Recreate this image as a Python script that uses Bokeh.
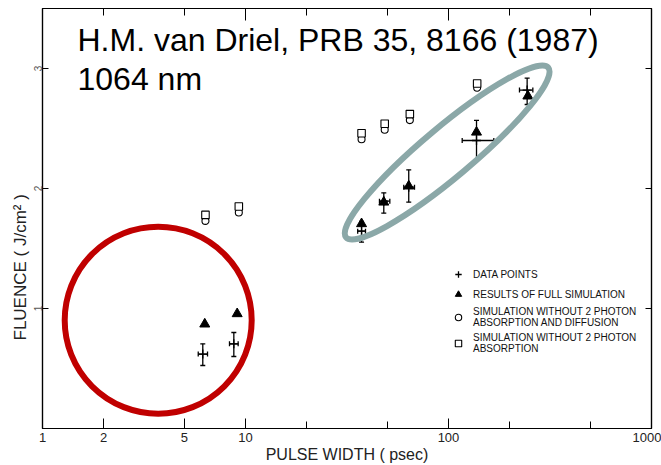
import numpy as np
from bokeh.plotting import figure
from bokeh.models import (Range1d, FixedTicker, LogAxis, LinearAxis, Whisker, TeeHead,
                          ColumnDataSource, Legend, LegendItem, Label, Title, PrintfTickFormatter)
from bokeh.embed import file_html
from bokeh.resources import INLINE

# ---------------- data ----------------
# measured data points (pulse width in psec, fluence in J/cm^2) with error bars
pw_data   = [6.16, 8.76, 37.3, 48.0, 63.7, 137.4, 244.0]
pw_lo     = [5.85, 8.34, 35.7, 45.7, 60.2, 116.8, 223.7]
pw_hi     = [6.50, 9.20, 39.0, 51.4, 68.0, 167.2, 260.3]
fl_data   = [0.62, 0.706, 1.644, 1.894, 2.011, 2.40, 2.82]
fl_lo     = [0.525, 0.60, 1.553, 1.794, 1.886, 2.228, 2.70]
fl_hi     = [0.706, 0.80, 1.725, 1.964, 2.156, 2.567, 2.92]

# results of full simulation (filled triangles)
pw_sim    = [6.30, 9.10, 37.3, 48.0, 63.7, 137.4, 246.0]
fl_sim    = [0.87, 0.956, 1.706, 1.886, 2.02, 2.469, 2.77]

# simulations without 2-photon absorption (open squares) / and diffusion (open circles)
pw_open   = [6.35, 9.27, 37.3, 48.5, 64.5, 138.4]
fl_square = [1.78, 1.85, 2.46, 2.54, 2.62, 2.875]
fl_circle = [1.73, 1.80, 2.41, 2.49, 2.57, 2.84]

x_ticks = [1, 2, 5, 10, 100, 1000]
x_minor = [20, 50, 200, 500]
y_ticks = [1, 2, 3]

# ---------------- figure ----------------
p = figure(width=661, height=465, x_axis_type="log",
           x_range=Range1d(1, 1000), y_range=Range1d(0, 3.5),
           output_backend="svg", toolbar_location=None,
           min_border_left=42, min_border_right=10, min_border_top=8, min_border_bottom=37)
p.grid.visible = False
p.outline_line_color = "black"
p.outline_line_width = 1.2
p.background_fill_color = "white"
p.border_fill_color = "white"

font = "Liberation Sans"
tick_col = "#222222"

xa = p.xaxis[0]
xa.ticker = FixedTicker(ticks=x_ticks, minor_ticks=x_minor)
xa.formatter = PrintfTickFormatter(format="%d")
xa.major_tick_in = 10
xa.major_tick_out = 0
xa.minor_tick_in = 7
xa.minor_tick_out = 0
xa.axis_line_color = "black"
xa.axis_line_width = 1.2
xa.major_label_text_font = font
xa.major_label_text_font_size = "13px"
xa.major_label_text_color = tick_col
xa.major_label_standoff = 4
xa.axis_label = "PULSE WIDTH ( psec)"
xa.axis_label_text_font = font
xa.axis_label_text_font_size = "16px"
xa.axis_label_text_font_style = "normal"
xa.axis_label_text_color = tick_col
xa.axis_label_standoff = 1

ya = p.yaxis[0]
ya.ticker = FixedTicker(ticks=y_ticks, minor_ticks=[])
ya.major_tick_in = 6
ya.major_tick_out = 0
ya.minor_tick_in = 0
ya.minor_tick_out = 0
ya.axis_line_color = "black"
ya.axis_line_width = 1.2
ya.major_label_orientation = "vertical"
ya.major_label_text_font = font
ya.major_label_text_font_size = "10px"
ya.major_label_text_color = "#555555"
ya.major_label_standoff = 1

top_axis = LogAxis(ticker=FixedTicker(ticks=[10, 100], minor_ticks=[2, 5, 20, 50, 200, 500]),
                   major_tick_in=12, major_tick_out=0, minor_tick_in=7, minor_tick_out=0,
                   major_label_text_font_size="1px", major_label_text_alpha=0,
                   major_label_standoff=0,
                   axis_line_color="black", axis_line_width=1.2)
p.add_layout(top_axis, "above")
right_axis = LinearAxis(ticker=FixedTicker(ticks=y_ticks, minor_ticks=[]),
                        major_tick_in=6, major_tick_out=0, minor_tick_in=0, minor_tick_out=0,
                        major_label_text_font_size="1px", major_label_text_alpha=0,
                        major_label_standoff=0,
                        axis_line_color="black", axis_line_width=1.2)
p.add_layout(right_axis, "right")

# y-axis title, placed like the original (lower than the axis centre)
p.add_layout(Title(text="FLUENCE ( J/cm² )", align="left", offset=88, standoff=2,
                   text_font=font, text_font_size="17px", text_font_style="normal",
                   text_color=tick_col), "left")

# ---------------- glyphs ----------------
src = ColumnDataSource(dict(x=pw_data, y=fl_data, xlo=pw_lo, xhi=pw_hi, ylo=fl_lo, yhi=fl_hi))

vw = Whisker(source=src, base="x", lower="ylo", upper="yhi", dimension="height",
             line_color="black", line_width=1.3,
             lower_head=TeeHead(size=5, line_width=1.3), upper_head=TeeHead(size=5, line_width=1.3))
hw = Whisker(source=src, base="y", lower="xlo", upper="xhi", dimension="width",
             line_color="black", line_width=1.3,
             lower_head=TeeHead(size=5, line_width=1.3), upper_head=TeeHead(size=5, line_width=1.3))
p.add_layout(vw)
p.add_layout(hw)

r_data = p.scatter(x="x", y="y", source=src, marker="cross", size=9,
                   line_color="black", line_width=1.3)
r_sim = p.scatter(pw_sim, fl_sim, marker="triangle", size=10,
                  fill_color="black", line_color="black")
r_circ = p.scatter(pw_open, fl_circle, marker="circle", size=7,
                   fill_color="white", line_color="black", line_width=1.1)
r_sq = p.scatter(pw_open, fl_square, marker="square", size=7.5,
                 fill_color="white", line_color="black", line_width=1.1)

# ---------------- highlight ellipses (screen-sized overlays) ----------------
p.ellipse(x=[3.715], y=[0.9025], width=187, height=187,
          width_units="screen", height_units="screen",
          fill_alpha=0, line_color="#C00000", line_width=6)
p.ellipse(x=[98.5], y=[2.30], width=264, height=50, angle=np.radians(40),
          width_units="screen", height_units="screen",
          fill_alpha=0, line_color="#8BA8A8", line_width=6)

# ---------------- legend ----------------
legend = Legend(items=[
    LegendItem(label="DATA POINTS", renderers=[r_data]),
    LegendItem(label="RESULTS OF FULL SIMULATION", renderers=[r_sim]),
    LegendItem(label="SIMULATION WITHOUT 2 PHOTON\nABSORPTION AND DIFFUSION", renderers=[r_circ]),
    LegendItem(label="SIMULATION WITHOUT 2 PHOTON\nABSORPTION", renderers=[r_sq]),
], location=(407, 74))
legend.border_line_alpha = 0
legend.background_fill_alpha = 0
legend.padding = 0
legend.margin = 0
legend.spacing = 4
legend.glyph_width = 18
legend.glyph_height = 16
legend.label_height = 12
legend.label_standoff = 6
legend.label_text_font = font
legend.label_text_font_size = "10px"
legend.label_text_line_height = 1.2
legend.label_text_color = "#111111"
p.add_layout(legend)

# ---------------- texts ----------------
p.add_layout(Label(x=35, y=389, x_units="screen", y_units="screen",
                   text="H.M. van Driel, PRB 35, 8166 (1987)",
                   text_font=font, text_font_size="32px", text_baseline="alphabetic",
                   text_color="black"))
p.add_layout(Label(x=35, y=350, x_units="screen", y_units="screen",
                   text="1064 nm",
                   text_font=font, text_font_size="32px", text_baseline="alphabetic",
                   text_color="black"))

open("out.html", "w").write(file_html(p, INLINE))
